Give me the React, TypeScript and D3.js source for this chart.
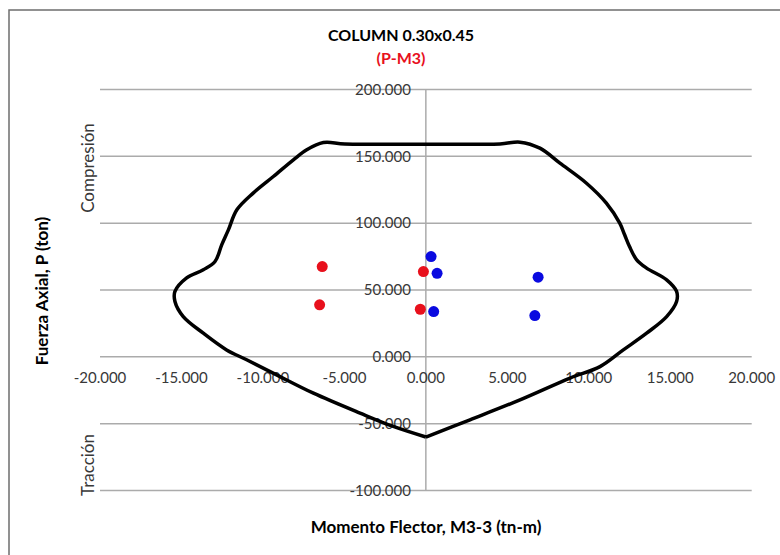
import React from "react";
import * as d3 from "d3";

// Interaction diagram (M3-3, P)
const curveM = [0, -2.0, -4.04, -6.9, -9.16, -11.0, -12.23, -13.66, -14.89, -15.4, -15.4, -14.7, -13.66, -12.94, -12.53, -12.12, -11.6, -10.6, -9.36, -8.13, -7.31, -6.29, -4.97, 0, 4.55, 5.78, 7.0, 8.23, 9.86, 11.08, 11.9, 12.2, 12.5, 12.94, 13.55, 14.78, 15.39, 15.39, 14.78, 13.55, 12.12, 10.69, 8.85, 5.78, 2.71, 0];
const curveP = [-60, -52.1, -42.1, -27.2, -13.5, -2.2, 5.2, 17.7, 30.1, 41.4, 48.9, 58.9, 65.1, 71.3, 83.8, 95.0, 110.0, 122.5, 134.9, 147.4, 154.9, 160.3, 159.3, 159.0, 159.3, 160.6, 156.1, 144.9, 129.9, 115.0, 100.0, 91.3, 82.5, 72.6, 66.4, 57.6, 48.9, 41.4, 30.1, 17.7, 5.2, -7.3, -15.9, -32.2, -47.1, -60];

// Demand points
const redM = [-6.36, -6.52, -0.15, -0.34];
const redP = [67.5, 38.9, 63.8, 35.6];
const blueM = [0.32, 0.69, 0.48, 6.89, 6.69];
const blueP = [75.0, 62.5, 33.9, 59.6, 30.9];

const xTicks = [-20, -15, -10, -5, 0, 5, 10, 15, 20];
const yTicks = [-100, -50, 0, 50, 100, 150, 200];

const FONT = "Lato, 'Open Sans', sans-serif";

export default function App() {
  const x = d3.scaleLinear().domain([-20, 20]).range([100, 751.7]);
  const y = d3.scaleLinear().domain([-100, 200]).range([490.5, 89.5]);
  const fmt = (v: number) => v.toFixed(3);

  const pts: [number, number][] = curveM.map((m, i) => [m, curveP[i]]);
  const line = d3
    .line<[number, number]>()
    .x((d) => x(d[0]))
    .y((d) => y(d[1]))
    .curve(d3.curveCatmullRom.alpha(0.5));

  const gridColor = "#ababab";
  const textColor = "#383838";

  return (
    <svg
      width={780}
      height={555}
      style={{ position: "absolute", left: 0, top: 0, background: "#fff" }}
    >
      <rect x={0} y={0} width={780} height={555} fill="#fff" />
      <rect x={9} y={10} width={800} height={600} fill="none" stroke="#6e6e6e" strokeWidth={1.5} />

      {/* horizontal gridlines */}
      {yTicks.map((t) => (
        <line key={"g" + t} x1={x(-20)} x2={x(20)} y1={y(t)} y2={y(t)} stroke={gridColor} strokeWidth={1.5} />
      ))}
      {/* vertical axis */}
      <line x1={x(0)} x2={x(0)} y1={y(200)} y2={y(-100)} stroke={gridColor} strokeWidth={1.5} />

      {/* y tick labels */}
      {yTicks.map((t) => (
        <text key={"yl" + t} x={x(0) - 15} y={y(t)} dy="0.35em" textAnchor="end" fontFamily={FONT} fontSize={15} fill={textColor}>
          {fmt(t)}
        </text>
      ))}
      {/* x tick labels */}
      {xTicks.map((t) => (
        <text key={"xl" + t} x={x(t)} y={y(0) + 21} dy="0.35em" textAnchor="middle" fontFamily={FONT} fontSize={15} fill={textColor}>
          {fmt(t)}
        </text>
      ))}

      {/* interaction curve */}
      <path d={line(pts) || ""} fill="none" stroke="#000" strokeWidth={3.5} strokeLinejoin="round" />

      {/* points */}
      {redM.map((m, i) => (
        <circle key={"r" + i} cx={x(m)} cy={y(redP[i])} r={5.5} fill="#e8101c" />
      ))}
      {blueM.map((m, i) => (
        <circle key={"b" + i} cx={x(m)} cy={y(blueP[i])} r={5.5} fill="#0a0ae0" />
      ))}

      {/* titles */}
      <text x={401} y={35} dy="0.35em" textAnchor="middle" fontFamily={FONT} fontWeight="bold" fontSize={16} fill="#000">
        COLUMN 0.30x0.45
      </text>
      <text x={401} y={58} dy="0.35em" textAnchor="middle" fontFamily={FONT} fontWeight="bold" fontSize={16} fill="#e8101c">
        (P-M3)
      </text>
      <text x={426} y={527} dy="0.35em" textAnchor="middle" fontFamily={FONT} fontWeight="bold" fontSize={17} fill="#000">
        Momento Flector, M3-3 (tn-m)
      </text>
      <text transform="translate(42,291) rotate(-90)" dy="0.35em" textAnchor="middle" fontFamily={FONT} fontWeight="bold" fontSize={17} fill="#000">
        Fuerza Axial, P (ton)
      </text>
      <text transform="translate(88,168) rotate(-90)" dy="0.35em" textAnchor="middle" fontFamily={FONT} fontSize={17} fill={textColor}>
        Compresión
      </text>
      <text transform="translate(88,465) rotate(-90)" dy="0.35em" textAnchor="middle" fontFamily={FONT} fontSize={17} fill={textColor}>
        Tracción
      </text>
    </svg>
  );
}
